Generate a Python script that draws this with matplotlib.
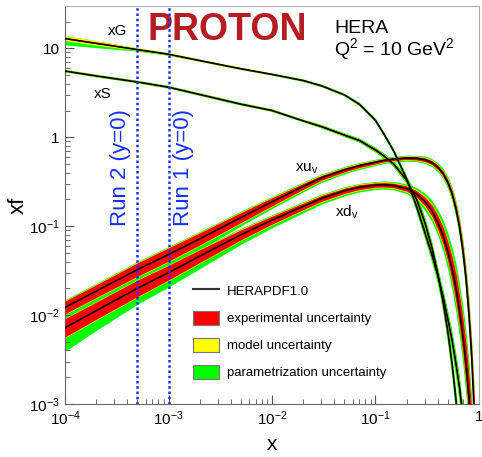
import numpy as np
import matplotlib
matplotlib.use("Agg")
import matplotlib.pyplot as plt
from matplotlib.patches import Patch
from matplotlib.lines import Line2D
from matplotlib.ticker import FixedLocator, FuncFormatter

plt.rcParams['font.family'] = ['Liberation Sans', 'DejaVu Sans']
plt.rcParams['mathtext.fontset'] = 'custom'
plt.rcParams['mathtext.rm'] = 'Liberation Sans'
plt.rcParams['mathtext.it'] = 'Liberation Sans:italic'
plt.rcParams['mathtext.bf'] = 'Liberation Sans:bold'

# x grid shared by all distributions
x_grid = [1e-4, 2e-4, 5e-4, 1e-3, 2e-3, 5e-3, 1e-2, 2e-2, 3e-2, 5e-2,
          7e-2, 0.1, 0.12, 0.15, 0.2, 0.25, 0.3, 0.35, 0.4, 0.45,
          0.5, 0.55, 0.6, 0.65, 0.7, 0.75, 0.8, 0.85, 0.9]

# central values at Q^2 = 10 GeV^2
xg_val = [12.9, 11.4, 9.7, 8.6, 7.3, 5.9, 5.1, 4.35, 3.8, 3.0,
          2.35, 1.55, 1.1, 0.7, 0.34, 0.165, 0.085, 0.048, 0.028, 0.016,
          0.009, 0.0052, 0.0028, 0.0015, 7e-4, 3e-4, 1.2e-4, 4e-5, 1e-5]
xs_val = [5.56, 4.9, 4.19, 3.66, 3.03, 2.36, 2.0, 1.53, 1.32, 1.06,
          0.92, 0.72, 0.62, 0.5, 0.33, 0.2, 0.11, 0.058, 0.029, 0.014,
          0.0065, 0.0028, 0.0011, 4e-4, 1.3e-4, 4e-5, 1.2e-5, 3e-6, 1e-6]
xuv_val = [0.0122, 0.0186, 0.0325, 0.048, 0.072, 0.125, 0.188, 0.28, 0.35, 0.43,
           0.48, 0.525, 0.55, 0.57, 0.585, 0.58, 0.56, 0.52, 0.46, 0.39,
           0.31, 0.23, 0.155, 0.095, 0.052, 0.025, 0.01, 0.0033, 8e-4]
xdv_val = [0.0072, 0.0112, 0.020, 0.030, 0.046, 0.080, 0.117, 0.167, 0.205, 0.25,
           0.275, 0.29, 0.292, 0.287, 0.265, 0.23, 0.19, 0.15, 0.11, 0.078,
           0.052, 0.033, 0.02, 0.011, 0.0058, 0.0028, 0.0012, 4.5e-4, 1.4e-4]

# relative uncertainties: experimental, model, parametrisation (up / down)
xg_exp = [0.02, 0.02, 0.015, 0.015, 0.015, 0.015, 0.015, 0.015, 0.015, 0.015,
          0.02, 0.02, 0.02, 0.025, 0.03, 0.04, 0.05, 0.06, 0.07, 0.08,
          0.09, 0.1, 0.12, 0.14, 0.16, 0.18, 0.2, 0.22, 0.25]
xg_mod = [0.05, 0.04, 0.02, 0.015, 0.01, 0.01, 0.01, 0.01, 0.01, 0.01,
          0.01, 0.01, 0.01, 0.01, 0.015, 0.02, 0.02, 0.025, 0.03, 0.035,
          0.04, 0.045, 0.05, 0.055, 0.06, 0.07, 0.08, 0.09, 0.1]
xg_par_up = [0.0, 0.0, 0.0, 0.0, 0.0, 0.0, 0.0, 0.005, 0.008, 0.01,
             0.015, 0.02, 0.025, 0.03, 0.05, 0.07, 0.09, 0.1, 0.12, 0.13,
             0.15, 0.17, 0.2, 0.22, 0.25, 0.27, 0.3, 0.32, 0.35]
xg_par_dn = [0.12, 0.07, 0.02, 0.01, 0.005, 0.005, 0.005, 0.01, 0.01, 0.01,
             0.015, 0.02, 0.025, 0.03, 0.05, 0.07, 0.09, 0.1, 0.12, 0.13,
             0.15, 0.17, 0.2, 0.22, 0.25, 0.27, 0.3, 0.32, 0.35]

xs_exp = [0.015, 0.015, 0.015, 0.015, 0.015, 0.015, 0.015, 0.015, 0.02, 0.02,
          0.02, 0.025, 0.03, 0.03, 0.04, 0.05, 0.06, 0.07, 0.08, 0.09,
          0.1, 0.11, 0.13, 0.15, 0.17, 0.19, 0.22, 0.25, 0.28]
xs_mod = [0.01, 0.01, 0.01, 0.01, 0.01, 0.01, 0.01, 0.01, 0.01, 0.01,
          0.01, 0.01, 0.01, 0.01, 0.015, 0.02, 0.02, 0.025, 0.03, 0.035,
          0.04, 0.045, 0.05, 0.055, 0.06, 0.07, 0.08, 0.09, 0.1]
xs_par_up = [0.01, 0.01, 0.01, 0.01, 0.01, 0.01, 0.01, 0.01, 0.015, 0.02,
             0.025, 0.03, 0.035, 0.04, 0.05, 0.07, 0.09, 0.1, 0.12, 0.13,
             0.15, 0.17, 0.2, 0.22, 0.25, 0.27, 0.3, 0.32, 0.35]
xs_par_dn = [0.01, 0.01, 0.01, 0.01, 0.01, 0.01, 0.01, 0.01, 0.015, 0.02,
             0.025, 0.03, 0.035, 0.04, 0.05, 0.07, 0.09, 0.1, 0.12, 0.13,
             0.15, 0.17, 0.2, 0.22, 0.25, 0.27, 0.3, 0.32, 0.35]

xuv_exp = [0.18, 0.18, 0.19, 0.19, 0.17, 0.14, 0.11, 0.08, 0.065, 0.055,
           0.05, 0.045, 0.04, 0.04, 0.04, 0.045, 0.05, 0.055, 0.06, 0.07,
           0.08, 0.1, 0.12, 0.15, 0.18, 0.22, 0.28, 0.35, 0.45]
xuv_mod = [0.02, 0.02, 0.02, 0.02, 0.02, 0.02, 0.02, 0.02, 0.02, 0.015,
           0.015, 0.015, 0.015, 0.015, 0.015, 0.015, 0.02, 0.02, 0.02, 0.025,
           0.03, 0.035, 0.04, 0.05, 0.06, 0.07, 0.08, 0.09, 0.1]
xuv_par_up = [0.02, 0.02, 0.02, 0.02, 0.02, 0.02, 0.02, 0.02, 0.02, 0.02,
              0.02, 0.02, 0.02, 0.02, 0.02, 0.02, 0.03, 0.03, 0.04, 0.045,
              0.05, 0.06, 0.07, 0.085, 0.1, 0.12, 0.15, 0.17, 0.2]
xuv_par_dn = [0.16, 0.22, 0.30, 0.21, 0.15, 0.08, 0.06, 0.05, 0.045, 0.04,
              0.035, 0.03, 0.03, 0.03, 0.03, 0.03, 0.03, 0.035, 0.04, 0.05,
              0.06, 0.07, 0.08, 0.1, 0.12, 0.15, 0.18, 0.22, 0.25]

xdv_exp = [0.27, 0.25, 0.24, 0.21, 0.18, 0.14, 0.11, 0.09, 0.08, 0.07,
           0.065, 0.06, 0.06, 0.06, 0.07, 0.09, 0.12, 0.16, 0.2, 0.25,
           0.3, 0.37, 0.45, 0.52, 0.6, 0.7, 0.8, 0.9, 1.0]
xdv_mod = [0.02, 0.02, 0.02, 0.02, 0.02, 0.02, 0.02, 0.02, 0.02, 0.02,
           0.02, 0.02, 0.02, 0.02, 0.02, 0.03, 0.04, 0.045, 0.05, 0.055,
           0.06, 0.07, 0.08, 0.09, 0.1, 0.11, 0.12, 0.13, 0.15]
xdv_par_up = [0.02, 0.02, 0.02, 0.02, 0.02, 0.02, 0.02, 0.02, 0.02, 0.02,
              0.02, 0.02, 0.025, 0.03, 0.04, 0.06, 0.08, 0.11, 0.15, 0.2,
              0.25, 0.3, 0.35, 0.4, 0.45, 0.5, 0.55, 0.58, 0.6]
xdv_par_dn = [0.55, 0.4, 0.25, 0.22, 0.18, 0.12, 0.09, 0.07, 0.06, 0.05,
              0.045, 0.04, 0.04, 0.04, 0.05, 0.07, 0.1, 0.12, 0.15, 0.2,
              0.25, 0.3, 0.35, 0.4, 0.45, 0.5, 0.55, 0.58, 0.6]

pdfs = [
    (xg_val, xg_exp, xg_mod, xg_par_up, xg_par_dn),
    (xs_val, xs_exp, xs_mod, xs_par_up, xs_par_dn),
    (xuv_val, xuv_exp, xuv_mod, xuv_par_up, xuv_par_dn),
    (xdv_val, xdv_exp, xdv_mod, xdv_par_up, xdv_par_dn),
]

# run boundaries at y=0
run_x = [5e-4, 1e-3]
run_labels = ["Run 2 (y=0)", "Run 1 (y=0)"]

RED, YELLOW, GREEN = "#ff0000", "#ffff00", "#00ff00"

fig = plt.figure(figsize=(4.82, 4.57), dpi=100)
ax = fig.add_axes([65 / 482, 53 / 457, 414 / 482, 398 / 457])

x = np.array(x_grid)
# total band first, then model+exp, then exp, central line on top
for val, ex, mo, pu, pd in pdfs:
    v = np.array(val)
    ex, mo, pu, pd = map(np.array, (ex, mo, pu, pd))
    ax.fill_between(x, v / (1 + ex + mo + pd), v * (1 + ex + mo + pu),
                    color=GREEN, lw=0, zorder=1)
for val, ex, mo, pu, pd in pdfs:
    v = np.array(val)
    ex, mo = np.array(ex), np.array(mo)
    ax.fill_between(x, v / (1 + ex + mo), v * (1 + ex + mo),
                    color=YELLOW, lw=0, zorder=2)
for val, ex, mo, pu, pd in pdfs:
    v = np.array(val)
    ex = np.array(ex)
    ax.fill_between(x, v / (1 + ex), v * (1 + ex), color=RED, lw=0, zorder=3)
for val, *_ in pdfs:
    ax.plot(x, val, color="black", lw=1.2, zorder=4)

for rx in run_x:
    ax.axvline(rx, color="#1530ff", lw=1.8, ls=(0, (1, 1.1)), zorder=5)

ax.set_xscale("log")
ax.set_yscale("log")
ax.set_xlim(1e-4, 1)
ax.set_ylim(1e-3, 30)


def pow_label(v, pos):
    e = int(round(np.log10(v)))
    if e == 0:
        return "1"
    if e == 1:
        return "10"
    return "10$^{\\mathregular{%d}}$" % e


ax.xaxis.set_major_locator(FixedLocator([1e-4, 1e-3, 1e-2, 1e-1, 1]))
ax.yaxis.set_major_locator(FixedLocator([1e-3, 1e-2, 1e-1, 1, 10]))
ax.xaxis.set_major_formatter(FuncFormatter(pow_label))
ax.yaxis.set_major_formatter(FuncFormatter(pow_label))

for side in ("left", "bottom"):
    ax.spines[side].set_color("#666666")
for side in ("top", "right"):
    ax.spines[side].set_color("#aaaaaa")
ax.tick_params(which="both", direction="in", colors="#555555",
               labelcolor="black", labelsize=11, top=False, right=False)
ax.tick_params(which="major", length=6.5, pad=4)
ax.tick_params(which="minor", length=3.5)

ax.set_xlabel("x", fontsize=15, labelpad=5)
ax.set_ylabel("xf", fontsize=16, labelpad=0)

# curve names
ax.text(3.2e-4, 15.9, "xG", fontsize=11, ha="center", va="center")
ax.text(2.33e-4, 3.1, "xS", fontsize=11, ha="center", va="center")
ax.text(0.0218, 0.447, "xu$_\\mathregular{v}$", fontsize=11, ha="center", va="center")
ax.text(0.053, 0.143, "xd$_\\mathregular{v}$", fontsize=11, ha="center", va="center")

ax.text(0.391, 0.94, "PROTON", transform=ax.transAxes, fontsize=27,
        fontweight="bold", color="#b41e23", ha="center", va="center")
ax.text(0.65, 0.932, "HERA", transform=ax.transAxes, fontsize=14,
        ha="left", va="baseline")
ax.text(0.65, 0.877, "Q$^\\mathregular{2}$ = 10 GeV$^\\mathregular{2}$",
        transform=ax.transAxes, fontsize=14, ha="left", va="baseline")

for lx, lab in zip([3.4e-4, 1.41e-3], run_labels):
    ax.text(lx, 0.593, lab, transform=ax.get_xaxis_transform(), rotation=90,
            fontsize=16, color="#1530ff", ha="center", va="center")

handles = [
    Line2D([], [], color="#333333", lw=1.5),
    Patch(facecolor=RED, edgecolor="#777777", lw=0.8),
    Patch(facecolor=YELLOW, edgecolor="#777777", lw=0.8),
    Patch(facecolor=GREEN, edgecolor="#777777", lw=0.8),
]
labels = ["HERAPDF1.0", "experimental uncertainty", "model uncertainty",
          "parametrization uncertainty"]
ax.legend(handles, labels, loc="upper left", bbox_to_anchor=(0.309, 0.303),
          frameon=False, fontsize=9.5, handlelength=2.0, handleheight=1.3,
          handletextpad=0.6, labelspacing=0.95, borderpad=0, borderaxespad=0)

fig.savefig("out.png", dpi=100)
